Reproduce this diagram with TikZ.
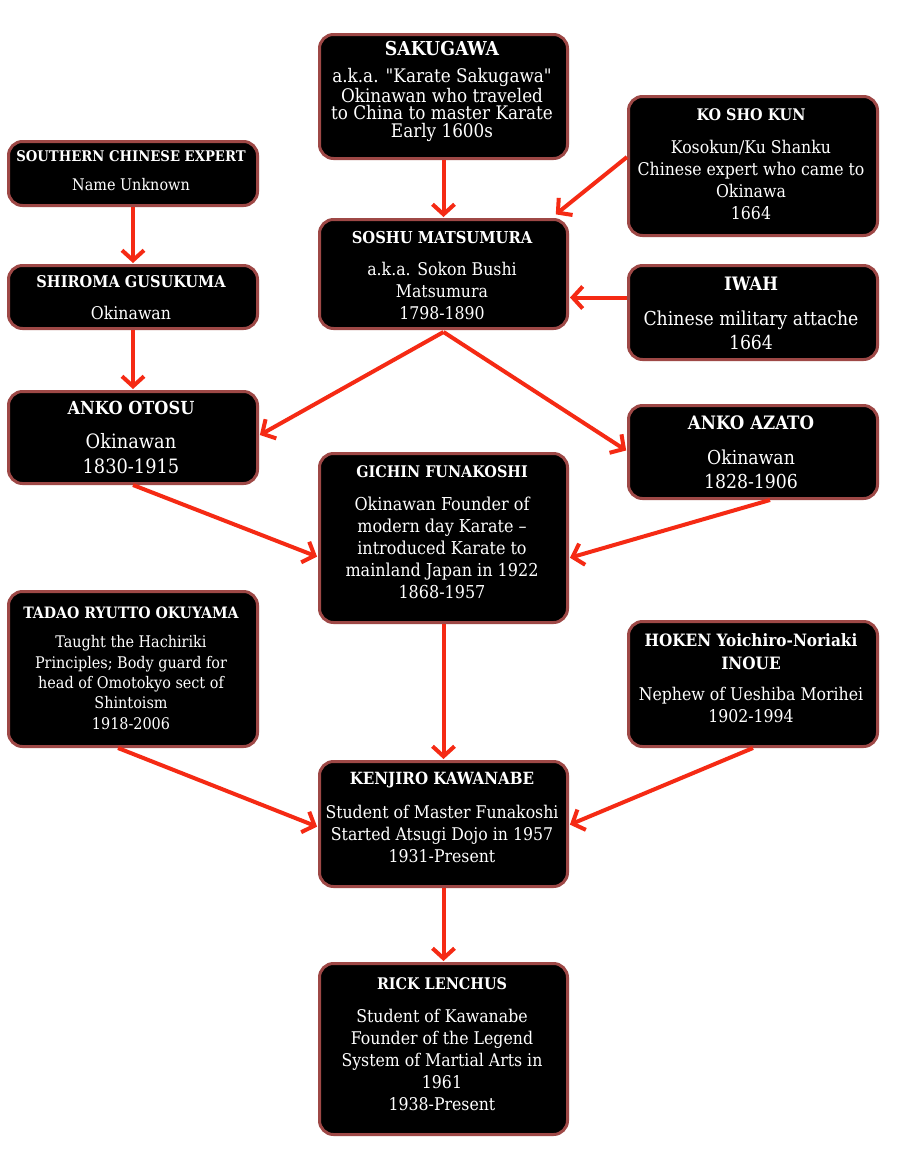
\documentclass[tikz,border=0pt]{standalone}
\usepackage{fontspec}
\setmainfont{DejaVu Serif Condensed}[Ligatures=TeXOff]
\usetikzlibrary{arrows.meta,calc}
\definecolor{bord}{RGB}{158,72,70}
\definecolor{arr}{RGB}{245,42,20}
\tikzset{
  box/.style={draw=bord, line width=3pt, fill=black, rounded corners=14pt, anchor=north west, inner sep=0pt},
  ttl/.style={text=white, inner sep=0pt, align=center, font=\bfseries\fontsize{#1}{#1}\selectfont},
  ttl/.default=16,
  body/.style={text=white, inner sep=0pt, align=center, font=\fontsize{17.5}{22}\selectfont},
  conn/.style={draw=arr, line width=4pt, -{Straight Barb[length=10pt,width=22pt,line width=4pt]}, shorten >=1pt}
}
\begin{document}
\begin{tikzpicture}[x=1pt,y=-1pt]
\useasboundingbox (0,0) rectangle (900,1160);
\fill[white] (0,0) rectangle (900,1160);
% boxes
\node[box, minimum width=248pt, minimum height=124pt] (saku) at (318,33) {};
\node[box, minimum width=249pt, minimum height=139pt] (ko) at (627,95) {};
\node[box, minimum width=249pt, minimum height=64pt] (south) at (7,140) {};
\node[box, minimum width=248pt, minimum height=109pt] (soshu) at (318,218) {};
\node[box, minimum width=249pt, minimum height=63pt] (shiro) at (7,264) {};
\node[box, minimum width=249pt, minimum height=94pt] (iwah) at (627,264) {};
\node[box, minimum width=249pt, minimum height=92pt] (otosu) at (7,390) {};
\node[box, minimum width=249pt, minimum height=93pt] (azato) at (627,404) {};
\node[box, minimum width=248pt, minimum height=169pt] (gichin) at (318,452) {};
\node[box, minimum width=249pt, minimum height=155pt] (tadao) at (7,590) {};
\node[box, minimum width=249pt, minimum height=125pt] (hoken) at (627,620) {};
\node[box, minimum width=248pt, minimum height=125pt] (kenji) at (318,760) {};
\node[box, minimum width=248pt, minimum height=171pt] (rick) at (318,962) {};
% texts
\node[ttl=19.2] (t1) at (442,49) {SAKUGAWA};
\node[body, font=\fontsize{18.7}{17.7}\selectfont] (b1) at (442,105) {a.k.a. "Karate Sakugawa"\\Okinawan who traveled\\to China to master Karate\\Early 1600s};
\node[ttl=16] (t2) at (751,115) {KO SHO KUN};
\node[body] (b2) at (751,179.5) {Kosokun/Ku Shanku\\Chinese expert who came to\\Okinawa\\1664};
\node[ttl=14.7] (t3) at (131,156) {SOUTHERN CHINESE EXPERT};
\node[body, font=\fontsize{16}{22}\selectfont] (b3) at (131,185) {Name Unknown};
\node[ttl=16.4] (t4) at (442,238) {SOSHU MATSUMURA};
\node[body] (b4) at (442,291) {a.k.a. Sokon Bushi\\Matsumura\\1798-1890};
\node[ttl=16.2] (t5) at (131,282) {SHIROMA GUSUKUMA};
\node[body] (b5) at (131,313) {Okinawan};
\node[ttl=18.5] (t6) at (751,284) {IWAH};
\node[body, font=\fontsize{19.2}{24}\selectfont] (b6) at (751,330) {Chinese military attache\\1664};
\node[ttl=18] (t7) at (131,408) {ANKO OTOSU};
\node[body, font=\fontsize{19.8}{25}\selectfont] (b7) at (131,453.5) {Okinawan\\1830-1915};
\node[ttl=18.5] (t8) at (751,423) {ANKO AZATO};
\node[body, font=\fontsize{19.2}{24}\selectfont] (b8) at (751,469) {Okinawan\\1828-1906};
\node[ttl=16] (t9) at (442,472) {GICHIN FUNAKOSHI};
\node[body, font=\fontsize{17.8}{22}\selectfont] (b9) at (442,548) {Okinawan Founder of\\modern day Karate –\\introduced Karate to\\mainland Japan in 1922\\1868-1957};
\node[ttl=15.7] (t10) at (131,613) {TADAO RYUTTO OKUYAMA};
\node[body, font=\fontsize{16}{20.3}\selectfont] (b10) at (131,682.5) {Taught the Hachiriki\\Principles; Body guard for\\head of Omotokyo sect of\\Shintoism\\1918-2006};
\node[ttl, font=\bfseries\fontsize{17}{23}\selectfont] (t11) at (751,651.5) {HOKEN Yoichiro-Noriaki\\INOUE};
\node[body] (b11) at (751,704.5) {Nephew of Ueshiba Morihei\\1902-1994};
\node[ttl=16.8] (t12) at (442,780) {KENJIRO KAWANABE};
\node[body] (b12) at (442,834) {Student of Master Funakoshi\\Started Atsugi Dojo in 1957\\1931-Present};
\node[ttl=16] (t13) at (442,984) {RICK LENCHUS};
\node[body] (b13) at (442,1059.5) {Student of Kawanabe\\Founder of the Legend\\System of Martial Arts in\\1961\\1938-Present};
% connectors
\draw[conn] (saku.south) -- (soshu.north);
\draw[conn] ($(ko.west)+(0,-9)$) -- ($(soshu.north east)+(-14,-3)$);
\draw[conn] (south.south) -- (shiro.north);
\draw[conn] ($(iwah.west)+(0,-15)$) -- ($(soshu.east)+(0,23.5)$);
\draw[conn] (shiro.south) -- (otosu.north);
\draw[conn] ($(soshu.south)+(0,2)$) -- ($(otosu.east)+(0,-2)$);
\draw[conn] ($(soshu.south)+(0,2)$) -- ($(azato.west)+(0,-1)$);
\draw[conn] (otosu.south) -- ($(gichin.west)+(0,19)$);
\draw[conn] ($(azato.south)+(17,0)$) -- ($(gichin.east)+(0,20)$);
\draw[conn] (gichin.south) -- (kenji.north);
\draw[conn] ($(tadao.south)+(-15,0)$) -- ($(kenji.west)+(0,3)$);
\draw[conn] ($(hoken.south)+(0,0)$) -- ($(kenji.east)+(0,1)$);
\draw[conn] (kenji.south) -- (rick.north);
\end{tikzpicture}
\end{document}
